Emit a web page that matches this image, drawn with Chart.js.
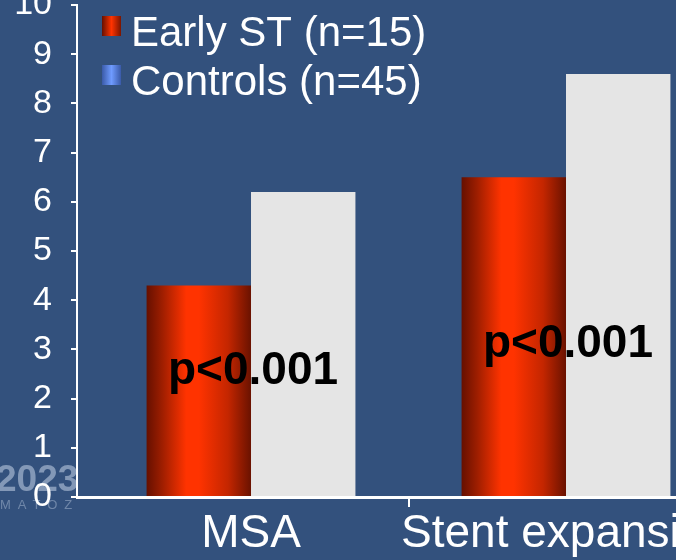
<!DOCTYPE html>
<html>
<head>
<meta charset="utf-8">
<script src="https://cdn.jsdelivr.net/npm/chart.js@4/dist/chart.umd.min.js"></script>
<style>
  html, body { margin: 0; padding: 0; overflow: hidden; background: #33517d; }
  #chart { display: block; }
</style>
</head>
<body>
<canvas id="chart" width="676" height="560"></canvas>
<script>
// values
const CATEGORIES = ['MSA', 'Stent expansion'];
const SERIES_LABELS = ['Early ST (n=15)', 'Controls (n=45)'];
const EARLY_ST = [4.3, 6.5];
const CONTROLS = [6.2, 8.6];
const Y_MIN = 0;
const Y_MAX = 10;
const Y_STEP = 1;
const P_TEXTS = ['p<0.001', 'p<0.001'];
const P_TEXT_Y = [2.3, 2.85]; // baseline, in axis units

const CAT_PCT = 0.663;
const FONT = 'Arial, "Liberation Sans", sans-serif';

function redFill(ctx) {
    const chart = ctx.chart;
    const xs = chart.scales.x;
    if (ctx.type !== 'data' || !xs || !chart.chartArea) return '#e02800';
    const step = xs.getPixelForValue(1) - xs.getPixelForValue(0);
    const w = step * CAT_PCT / 2;
    const left = xs.getPixelForValue(ctx.dataIndex) - w;
    const g = chart.ctx.createLinearGradient(left, 0, left + w, 0);
    g.addColorStop(0, '#661000');
    g.addColorStop(0.15, '#9e1e00');
    g.addColorStop(0.38, '#ff3300');
    g.addColorStop(0.5, '#ff3300');
    g.addColorStop(0.78, '#c42600');
    g.addColorStop(1, '#6a1200');
    return g;
}

// faint conference watermark at lower left
const watermark = {
    id: 'watermark',
    beforeDraw(chart) {
        const c = chart.ctx;
        c.save();
        c.fillStyle = 'rgba(185,200,222,0.6)';
        c.font = 'bold 37px ' + FONT;
        c.textBaseline = 'alphabetic';
        c.fillText('2023', -4, 491);
        c.font = '13px ' + FONT;
        c.letterSpacing = '7px';
        c.fillStyle = 'rgba(185,200,222,0.45)';
        c.fillText('MATOZ', 0, 509);
        c.restore();
    }
};

// legend drawn over the plot, like the slide
const slideLegend = {
    id: 'slideLegend',
    afterDraw(chart) {
        const c = chart.ctx;
        const markers = [
            ['#661000', '#ff3300', '#7a1500'],
            ['#3a5aa8', '#6f9bff', '#3a5aa8']
        ];
        c.save();
        chart.data.datasets.forEach((ds, i) => {
            const bx = 102, by = 16 + i * 49, bw = 19, bh = 20;
            const g = c.createLinearGradient(bx, 0, bx + bw, 0);
            g.addColorStop(0, markers[i][0]);
            g.addColorStop(0.5, markers[i][1]);
            g.addColorStop(1, markers[i][2]);
            c.fillStyle = g;
            c.fillRect(bx, by, bw, bh);
            c.fillStyle = '#ffffff';
            c.font = '42px ' + FONT;
            c.textAlign = 'left';
            c.textBaseline = 'alphabetic';
            c.fillText(ds.label, 131, 46 + i * 49);
        });
        c.restore();
    }
};

// p-value labels over each group
const pValues = {
    id: 'pValues',
    afterDatasetsDraw(chart) {
        const c = chart.ctx;
        const xs = chart.scales.x, ys = chart.scales.y;
        c.save();
        c.fillStyle = '#000000';
        c.font = 'bold 46px ' + FONT;
        c.textAlign = 'center';
        c.textBaseline = 'alphabetic';
        P_TEXTS.forEach((t, i) => {
            c.fillText(t, xs.getPixelForValue(i) + 2, ys.getPixelForValue(P_TEXT_Y[i]));
        });
        c.restore();
    }
};

new Chart(document.getElementById('chart'), {
    type: 'bar',
    data: {
        datasets: [
            {
                label: SERIES_LABELS[0],
                data: EARLY_ST.map((v, i) => ({ x: i, y: v })),
                backgroundColor: redFill,
                borderWidth: 0
            },
            {
                label: SERIES_LABELS[1],
                data: CONTROLS.map((v, i) => ({ x: i, y: v })),
                backgroundColor: '#e5e5e5',
                borderWidth: 0
            }
        ]
    },
    options: {
        responsive: false,
        animation: false,
        events: [],
        categoryPercentage: CAT_PCT,
        barPercentage: 1,
        layout: { padding: { top: 5, left: 0, right: 0, bottom: 0 } },
        scales: {
            x: {
                type: 'linear',
                offset: false,
                min: -0.5524,
                max: 1.3492,
                afterBuildTicks: (scale) => { scale.ticks = CATEGORIES.map((_, i) => ({ value: i })); },
                afterFit: (scale) => {
                    scale.height = 63;
                    scale.paddingLeft = 0;
                    scale.paddingRight = 0;
                },
                ticks: {
                    autoSkip: false,
                    maxRotation: 0,
                    padding: 0,
                    color: '#ffffff',
                    font: { family: FONT, size: 46 },
                    callback: (v) => CATEGORIES[v]
                },
                grid: {
                    offset: true,
                    drawOnChartArea: false,
                    tickLength: 10,
                    lineWidth: 2,
                    color: (ctx) => ctx.index === 1 ? '#ffffff' : 'rgba(0,0,0,0)'
                },
                border: { color: '#ffffff', width: 3 }
            },
            y: {
                min: Y_MIN,
                max: Y_MAX,
                afterFit: (scale) => {
                    scale.width = 77;
                    scale.paddingTop = 0;
                    scale.paddingBottom = 0;
                },
                ticks: {
                    stepSize: Y_STEP,
                    padding: 19,
                    color: '#ffffff',
                    font: { family: FONT, size: 34 }
                },
                grid: {
                    drawOnChartArea: false,
                    tickLength: 6,
                    lineWidth: 2,
                    color: '#ffffff'
                },
                border: { color: '#ffffff', width: 2 }
            }
        },
        plugins: {
            legend: { display: false },
            tooltip: { enabled: false }
        }
    },
    plugins: [watermark, slideLegend, pValues]
});
</script>
</body>
</html>
